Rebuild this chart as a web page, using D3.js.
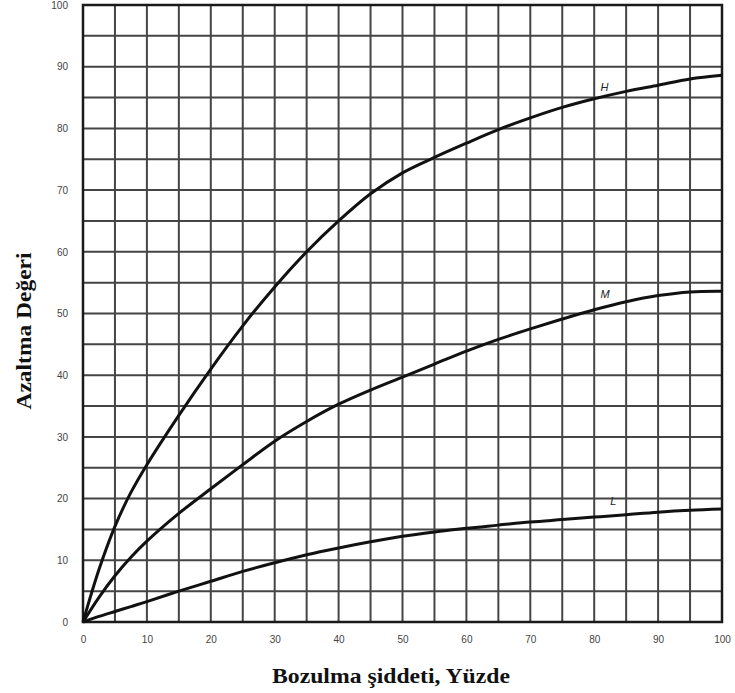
<!DOCTYPE html>
<html>
<head>
<meta charset="utf-8">
<script src="https://cdn.jsdelivr.net/npm/d3@7"></script>
<style>
  html, body { margin: 0; padding: 0; background: #fff; }
  svg { display: block; }
</style>
</head>
<body>
<svg id="chart" width="735" height="693"></svg>
<script>
// Bozulma şiddeti (%) at which each curve is sampled
const severity = [0, 2.5, 5, 7.5, 10, 15, 20, 25, 30, 35, 40, 45, 50, 55, 60, 65, 70, 75, 80, 85, 90, 95, 100];
// Azaltma değeri for high, medium and low severity levels
const seriesH = [0, 8.5, 15.5, 21, 25.5, 33.5, 41, 48, 54.3, 60, 65, 69.4, 72.8, 75.3, 77.6, 79.8, 81.7, 83.4, 84.8, 86, 87, 88, 88.6];
const seriesM = [0, 4, 7.5, 10.5, 13.1, 17.6, 21.6, 25.5, 29.3, 32.5, 35.3, 37.6, 39.7, 41.8, 43.9, 45.8, 47.5, 49.1, 50.6, 51.9, 52.9, 53.5, 53.6];
const seriesL = [0, 0.9, 1.7, 2.5, 3.3, 5, 6.6, 8.2, 9.6, 10.9, 12, 13, 13.9, 14.6, 15.2, 15.7, 16.2, 16.6, 17, 17.4, 17.8, 18.1, 18.3];
const seriesNames = ["H", "M", "L"];
const labelAt = [{ x: 81, y: 86 }, { x: 81, y: 52.5 }, { x: 82.5, y: 19 }];
const xTicks = [0, 10, 20, 30, 40, 50, 60, 70, 80, 90, 100];
const yTicks = [0, 10, 20, 30, 40, 50, 60, 70, 80, 90, 100];
const gridStep = 5;
const xTitle = "Bozulma şiddeti, Yüzde";
const yTitle = "Azaltma Değeri";

const svg = d3.select("#chart");
const margin = { left: 83, right: 13, top: 5, bottom: 71 };
const W = 735, H = 693;

const x = d3.scaleLinear().domain([0, 100]).range([margin.left, W - margin.right]);
const y = d3.scaleLinear().domain([0, 100]).range([H - margin.bottom, margin.top]);

// grid every 5 units
const gridVals = d3.range(0, 100 + gridStep, gridStep);
const g = svg.append("g").attr("class", "grid");
g.selectAll("line.v").data(gridVals).join("line")
  .attr("class", "v")
  .attr("x1", d => x(d)).attr("x2", d => x(d))
  .attr("y1", y(0)).attr("y2", y(100))
  .attr("stroke", "#454545").attr("stroke-width", 2);
g.selectAll("line.h").data(gridVals).join("line")
  .attr("class", "h")
  .attr("x1", x(0)).attr("x2", x(100))
  .attr("y1", d => y(d)).attr("y2", d => y(d))
  .attr("stroke", "#454545").attr("stroke-width", 2);

// frame
svg.append("rect")
  .attr("x", x(0)).attr("y", y(100))
  .attr("width", x(100) - x(0)).attr("height", y(0) - y(100))
  .attr("fill", "none").attr("stroke", "#1a1a1a").attr("stroke-width", 2.5);

// axes (labels only)
const xAxis = svg.append("g")
  .attr("transform", `translate(0,${y(0)})`)
  .call(d3.axisBottom(x).tickValues(xTicks).tickSize(0).tickPadding(14));
const yAxis = svg.append("g")
  .attr("transform", `translate(${x(0)},0)`)
  .call(d3.axisLeft(y).tickValues(yTicks).tickSize(0).tickPadding(15));
[xAxis, yAxis].forEach(a => {
  a.select(".domain").remove();
  a.selectAll("text")
    .attr("font-family", "'Liberation Sans', Arial, sans-serif")
    .attr("font-size", 10)
    .attr("fill", "#444");
});

// curves
const line = d3.line()
  .x((d, i) => x(severity[i]))
  .y(d => y(d))
  .curve(d3.curveCatmullRom.alpha(0.5));
[seriesH, seriesM, seriesL].forEach(s => {
  svg.append("path")
    .attr("d", line(s))
    .attr("fill", "none")
    .attr("stroke", "#111")
    .attr("stroke-width", 3)
    .attr("stroke-linejoin", "round");
});

// curve labels
svg.selectAll("text.curve-label").data(seriesNames).join("text")
  .attr("class", "curve-label")
  .attr("x", (d, i) => x(labelAt[i].x))
  .attr("y", (d, i) => y(labelAt[i].y))
  .attr("font-family", "'Liberation Sans', Arial, sans-serif")
  .attr("font-size", 11)
  .attr("font-style", "italic")
  .attr("fill", "#222")
  .text(d => d);

// axis titles
svg.append("text")
  .attr("x", 391).attr("y", 683)
  .attr("text-anchor", "middle")
  .attr("font-family", "'Liberation Serif', 'Times New Roman', serif")
  .attr("font-weight", "bold")
  .attr("font-size", 21)
  .attr("textLength", 238)
  .attr("lengthAdjust", "spacingAndGlyphs")
  .attr("fill", "#111")
  .text(xTitle);
svg.append("text")
  .attr("transform", "translate(31,331) rotate(-90)")
  .attr("text-anchor", "middle")
  .attr("font-family", "'Liberation Serif', 'Times New Roman', serif")
  .attr("font-weight", "bold")
  .attr("font-size", 21)
  .attr("textLength", 157)
  .attr("lengthAdjust", "spacingAndGlyphs")
  .attr("fill", "#111")
  .text(yTitle);
</script>
</body>
</html>
